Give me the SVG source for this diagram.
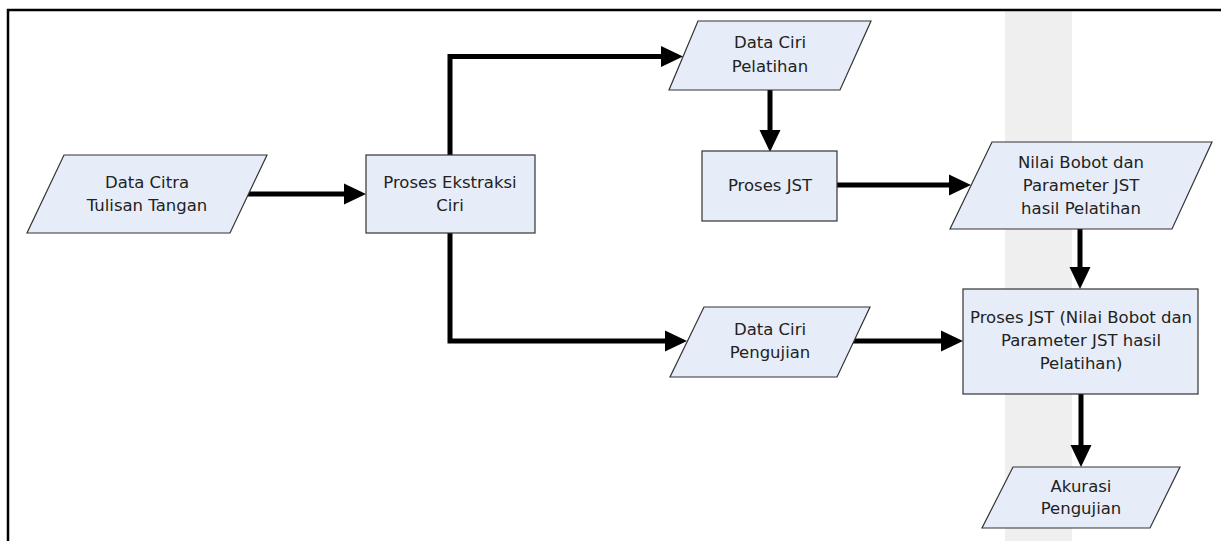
<svg xmlns="http://www.w3.org/2000/svg" width="1221" height="541" viewBox="0 0 1221 541">
<style>
.shape{fill:#e6edf8;stroke:#333333;stroke-width:1.2}
.lbl{font-family:'DejaVu Sans',Verdana,sans-serif;font-size:16.5px;fill:#222222;text-anchor:middle}
.conn{fill:none;stroke:#000;stroke-width:5;stroke-linejoin:miter}
</style>
<defs>
<marker id="ah" markerUnits="userSpaceOnUse" viewBox="0 -11 22 22" markerWidth="22" markerHeight="22" refX="0" refY="0" orient="auto">
<path d="M0,-10.5 L22,0 L0,10.5 z" fill="#000"/>
</marker>
</defs>
<rect x="1005" y="11" width="67" height="530" fill="#efefef"/>
<path d="M8,541 V10 H1221" fill="none" stroke="#000" stroke-width="2.5"/>
<g id="connectors">
<path class="conn" d="M248,194 H344" marker-end="url(#ah)"/>
<path class="conn" d="M450,155 V56.5 H661" marker-end="url(#ah)"/>
<path class="conn" d="M450,233 V341 H665" marker-end="url(#ah)"/>
<path class="conn" d="M770,90 V130" marker-end="url(#ah)"/>
<path class="conn" d="M837,185 H949" marker-end="url(#ah)"/>
<path class="conn" d="M1080,229 V267" marker-end="url(#ah)"/>
<path class="conn" d="M853,341 H941" marker-end="url(#ah)"/>
<path class="conn" d="M1081,394 V445" marker-end="url(#ah)"/>
</g>
<g id="data-citra">
<polygon class="shape" points="64,155 267,155 230,233 27,233"/>
<text class="lbl" x="147" y="188">Data Citra</text>
<text class="lbl" x="147" y="211">Tulisan Tangan</text>
</g>
<g id="proses-ekstraksi">
<rect class="shape" x="366" y="155" width="169" height="78"/>
<text class="lbl" x="450" y="188">Proses Ekstraksi</text>
<text class="lbl" x="450" y="211">Ciri</text>
</g>
<g id="data-ciri-pelatihan">
<polygon class="shape" points="698,21 871,21 840,90 669,90"/>
<text class="lbl" x="770" y="48">Data Ciri</text>
<text class="lbl" x="770" y="71.5">Pelatihan</text>
</g>
<g id="proses-jst">
<rect class="shape" x="702" y="151" width="135" height="70"/>
<text class="lbl" x="770" y="191">Proses JST</text>
</g>
<g id="nilai-bobot">
<polygon class="shape" points="992,142 1212,142 1172,229 950,229"/>
<text class="lbl" x="1081" y="168">Nilai Bobot dan</text>
<text class="lbl" x="1081" y="191">Parameter JST</text>
<text class="lbl" x="1081" y="214">hasil Pelatihan</text>
</g>
<g id="data-ciri-pengujian">
<polygon class="shape" points="704,307 870,307 837,377 670,377"/>
<text class="lbl" x="770" y="335">Data Ciri</text>
<text class="lbl" x="770" y="357.5">Pengujian</text>
</g>
<g id="proses-jst-uji">
<rect class="shape" x="963" y="289" width="235" height="105"/>
<text class="lbl" x="1081" y="323">Proses JST (Nilai Bobot dan</text>
<text class="lbl" x="1081" y="346">Parameter JST hasil</text>
<text class="lbl" x="1081" y="369">Pelatihan)</text>
</g>
<g id="akurasi">
<polygon class="shape" points="1013,467 1180,467 1150,528 982,528"/>
<text class="lbl" x="1081" y="492">Akurasi</text>
<text class="lbl" x="1081" y="514">Pengujian</text>
</g>
</svg>
